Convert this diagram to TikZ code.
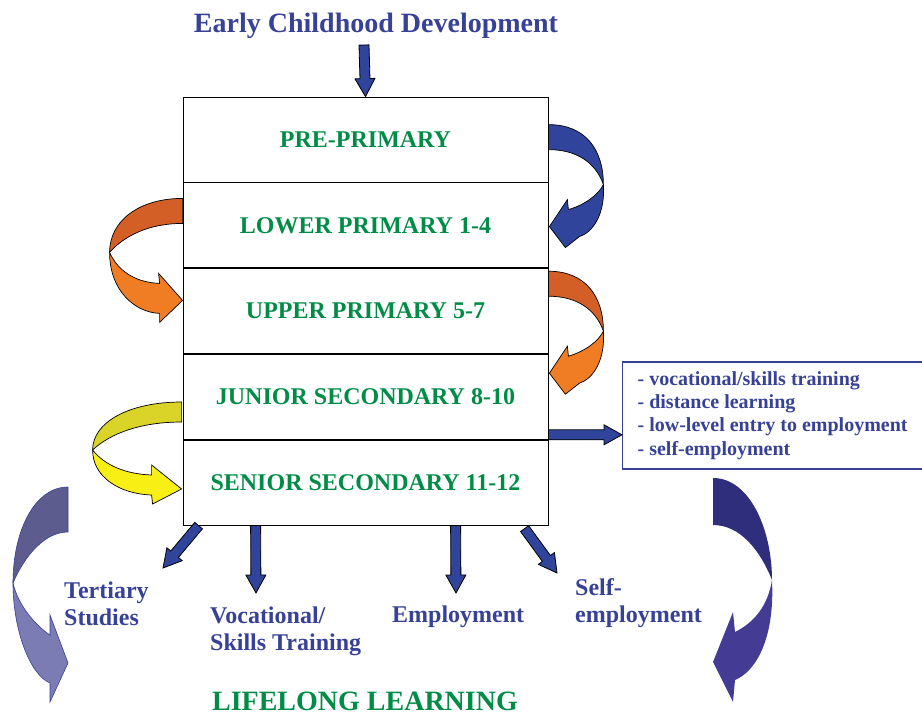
\documentclass[tikz,border=0pt]{standalone}
\usepackage{fontspec}
\setmainfont{Liberation Serif}
\usetikzlibrary{positioning,calc}
\definecolor{ecdblue}{RGB}{55,66,150}
\definecolor{ecdgreen}{RGB}{0,140,70}
\definecolor{arrblue}{RGB}{48,68,155}
\definecolor{orangetop}{RGB}{212,95,38}
\definecolor{orangebot}{RGB}{240,125,35}
\definecolor{yellowtop}{RGB}{218,212,40}
\definecolor{yellowbot}{RGB}{248,240,20}
\definecolor{purpletop}{RGB}{92,92,142}
\definecolor{purplebot}{RGB}{124,124,180}
\definecolor{navytop}{RGB}{46,46,125}
\definecolor{navybot}{RGB}{68,60,148}

% straight block arrow from #1 to #2
\newcommand{\blkarrow}[2]{%
  \coordinate (hb) at ($(#2)!18pt!(#1)$);
  \draw[B] ($(#1)!5pt!90:(#2)$) -- ($(hb)!5pt!90:(#2)$) -- ($(hb)!10pt!90:(#2)$) -- (#2)
    -- ($(hb)!10pt!-90:(#2)$) -- ($(hb)!5pt!-90:(#2)$) -- ($(#1)!5pt!-90:(#2)$) -- cycle;
}
% u-turn on the right side of the box
\newcommand{\rturn}[3]{%
  \begin{scope}[shift={(#1)}]
    \filldraw[U, fill=#2] (0,0) .. controls (37,0) and (55,25) .. (55,60)
      .. controls (47,37) and (27,25) .. (0,25) -- cycle;
    \filldraw[U, fill=#3] (55,60) .. controls (57,90) and (44,108) .. (31,112) -- (17,123)
      -- (1,102) -- (19,75) -- (20,85) .. controls (37,80) and (50,70) .. (55,60) -- cycle;
  \end{scope}}

\begin{document}
\begin{tikzpicture}[x=1pt, y=-1pt,
    R/.style={draw, line width=0.8pt, minimum width=365pt, minimum height=85pt,
      text=ecdgreen, font=\fontsize{24}{28}\selectfont\bfseries},
    T/.style={text=ecdblue, font=\fontsize{28}{32}\selectfont\bfseries, inner sep=0pt},
    L/.style={text=ecdblue, font=\fontsize{24}{27}\selectfont\bfseries, align=left,
      anchor=west, inner sep=0pt},
    O/.style={draw=ecdblue, line width=1.2pt, text=ecdblue, align=left,
      font=\fontsize{20}{23.4}\selectfont\bfseries, minimum width=300pt,
      minimum height=107pt, anchor=west},
    B/.style={draw=black, fill=arrblue, line width=0.8pt, line join=miter},
    U/.style={draw=black, line width=0.7pt}
  ]
  \useasboundingbox (0,0) rectangle (922,716);

  \node[T] (ecd) at (376,26) {Early Childhood Development};

  \node[R] (pre) at (365.5,139.5) {PRE-PRIMARY};
  \node[R, below=0pt of pre] (low) {LOWER PRIMARY 1-4};
  \node[R, below=0pt of low] (upp) {UPPER PRIMARY 5-7};
  \node[R, below=0pt of upp] (jun) {JUNIOR SECONDARY 8-10};
  \node[R, below=0pt of jun] (sen) {SENIOR SECONDARY 11-12};

  \node[O] (opts) at (622,415.5) {- vocational/skills training\\- distance learning\\
    - low-level entry to employment\\- self-employment};

  \node[L] (ter) at (64,603.5) {Tertiary\\Studies};
  \node[L] (voc) at (210,631) {Vocational/\\Skills Training};
  \node[L] (emp) at (392,617) {Employment};
  \node[L] (self) at (575,603.5) {Self-\\employment};
  \node[T, text=ecdgreen] (lll) at (365,701) {LIFELONG LEARNING};

  % straight arrows
  \coordinate (ecdout) at (364,45);
  \blkarrow{ecdout}{pre.north}
  \coordinate (t1) at ($(sen.south west)+(16,0)$);
  \coordinate (h1) at (163,568);
  \blkarrow{t1}{h1}
  \coordinate (t2) at ($(sen.south west)+(73,0)$);
  \coordinate (h2) at (256,593);
  \blkarrow{t2}{h2}
  \coordinate (t3) at ($(sen.south west)+(273,0)$);
  \coordinate (h3) at (456,593);
  \blkarrow{t3}{h3}
  \coordinate (t4) at ($(sen.south west)+(342,3)$);
  \coordinate (h4) at (557,573);
  \blkarrow{t4}{h4}
  \coordinate (t5) at ($(jun.south east)+(0,-5)$);
  \coordinate (h5) at (opts.west |- t5);
  \blkarrow{t5}{h5}

  % u-turns between the rows
  \rturn{$(pre.north east)+(0,28)$}{arrblue}{arrblue}
  \rturn{$(upp.north east)+(0,3)$}{orangetop}{orangebot}

  \begin{scope}[shift={($(low.north west)+(0,16)$)}]
    \filldraw[U, fill=orangetop] (0,0) .. controls (-43,0) and (-73,22) .. (-73,54)
      .. controls (-58,37) and (-33,25) .. (0,25) -- cycle;
    \filldraw[U, fill=orangebot] (-73,54) .. controls (-73,92) and (-48,114) .. (-23,115)
      -- (-23,124) -- (0,102) -- (-24,75) -- (-23,85)
      .. controls (-48,84) and (-65,72) .. (-73,54) -- cycle;
  \end{scope}
  \begin{scope}[shift={($(jun.north west)+(-1,48)$)}]
    \filldraw[U, fill=yellowtop] (0,0) .. controls (-52,0) and (-89,20) .. (-89,48)
      .. controls (-72,32) and (-42,20) .. (0,20) -- cycle;
    \filldraw[U, fill=yellowbot] (-89,48) .. controls (-89,75) and (-62,92) .. (-30,93)
      -- (-29,102) -- (0,87) -- (-30,63) -- (-30,73)
      .. controls (-57,72) and (-77,63) .. (-89,48) -- cycle;
  \end{scope}

  % big side arrows
  \begin{scope}[shift={(68,487)}]
    \filldraw[draw=ecdblue, line width=0.6pt, fill=purpletop] (0,0)
      .. controls (-33,0) and (-55,43) .. (-55,96)
      .. controls (-43,68) and (-23,45) .. (0,45) -- cycle;
    \filldraw[draw=ecdblue, line width=0.6pt, fill=purplebot] (-55,96)
      .. controls (-55,143) and (-38,188) .. (-18,196) -- (-18,215) -- (0,176)
      -- (-18,128) -- (-18,148) .. controls (-33,138) and (-50,118) .. (-55,96) -- cycle;
  \end{scope}
  \begin{scope}[shift={(713,478)}]
    \fill[navytop] (0,0) .. controls (37,0) and (59,52) .. (59,102)
      .. controls (47,72) and (27,47) .. (0,47) -- cycle;
    \fill[navybot] (59,102) .. controls (62,162) and (42,194) .. (22,202) -- (20,224)
      -- (0,184) -- (20,134) -- (22,154) .. controls (42,144) and (55,127) .. (59,102) -- cycle;
  \end{scope}
\end{tikzpicture}
\end{document}
